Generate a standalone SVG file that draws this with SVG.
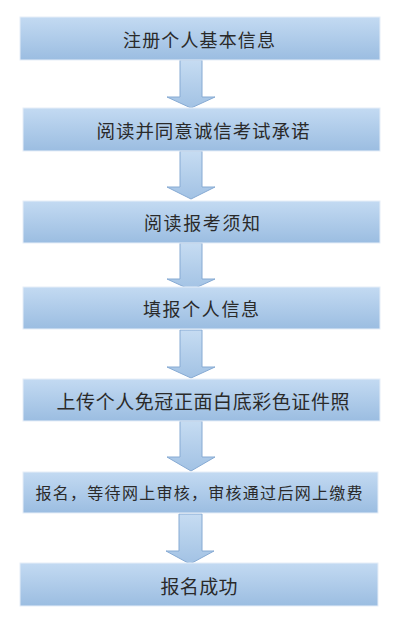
<svg xmlns="http://www.w3.org/2000/svg" width="407" height="622" viewBox="0 0 407 622">
<defs>
<linearGradient id="bg" x1="0" y1="0" x2="0" y2="1">
<stop offset="0" stop-color="#c3daf2"/>
<stop offset="1" stop-color="#9bbde1"/>
</linearGradient>
<linearGradient id="ag" x1="0" y1="0" x2="0" y2="1">
<stop offset="0" stop-color="#c6dcf2"/>
<stop offset="1" stop-color="#a2c2e4"/>
</linearGradient>
<style>
.box{fill:url(#bg);stroke:#e6eef8;stroke-width:1}
.arr{fill:url(#ag);stroke:#86aad3;stroke-width:1}
.t{font-family:"Noto Sans CJK SC","Noto Sans",sans-serif;fill:#2a2a2a;text-anchor:middle;dominant-baseline:central}
</style>
</defs>
<rect width="407" height="622" fill="#fff"/>
<g id="connectors">
<path class="arr" d="M180,60 H202 V97 H215 L191,108 L167,97 H180 Z"/>
<path class="arr" d="M180,151 H202 V187 H215 L191,199 L167,187 H180 Z"/>
<path class="arr" d="M180,243 H202 V279 H215 L191,290 L167,279 H180 Z"/>
<path class="arr" d="M180,330 H202 V367 H215 L191,378 L167,367 H180 Z"/>
<path class="arr" d="M180,421 H202 V457 H215 L191,471 L167,457 H180 Z"/>
<path class="arr" d="M179,514 H202 V551 H214 L190,564 L166,551 H179 Z"/>
</g>
<g id="n1"><rect class="box" x="20" y="17" width="360" height="43"/><text class="t" x="199" y="39" font-size="18" textLength="152" lengthAdjust="spacing">注册个人基本信息</text></g>
<g id="n2"><rect class="box" x="23" y="108" width="357" height="43"/><text class="t" x="203" y="130" font-size="18.5" textLength="213" lengthAdjust="spacing">阅读并同意诚信考试承诺</text></g>
<g id="n3"><rect class="box" x="23" y="201" width="357" height="42"/><text class="t" x="202" y="222" font-size="18" textLength="116" lengthAdjust="spacing">阅读报考须知</text></g>
<g id="n4"><rect class="box" x="23" y="287" width="357" height="42"/><text class="t" x="201" y="308" font-size="18" textLength="116" lengthAdjust="spacing">填报个人信息</text></g>
<g id="n5"><rect class="box" x="23" y="379" width="357" height="42"/><text class="t" x="203" y="400" font-size="19" textLength="293" lengthAdjust="spacing">上传个人免冠正面白底彩色证件照</text></g>
<g id="n6"><rect class="box" x="23" y="472" width="355" height="41"/><text class="t" x="199" y="492" font-size="16" textLength="327" lengthAdjust="spacing">报名，等待网上审核，审核通过后网上缴费</text></g>
<g id="n7"><rect class="box" x="20" y="563" width="358" height="43"/><text class="t" x="199" y="585" font-size="19" textLength="77" lengthAdjust="spacing">报名成功</text></g>
</svg>
